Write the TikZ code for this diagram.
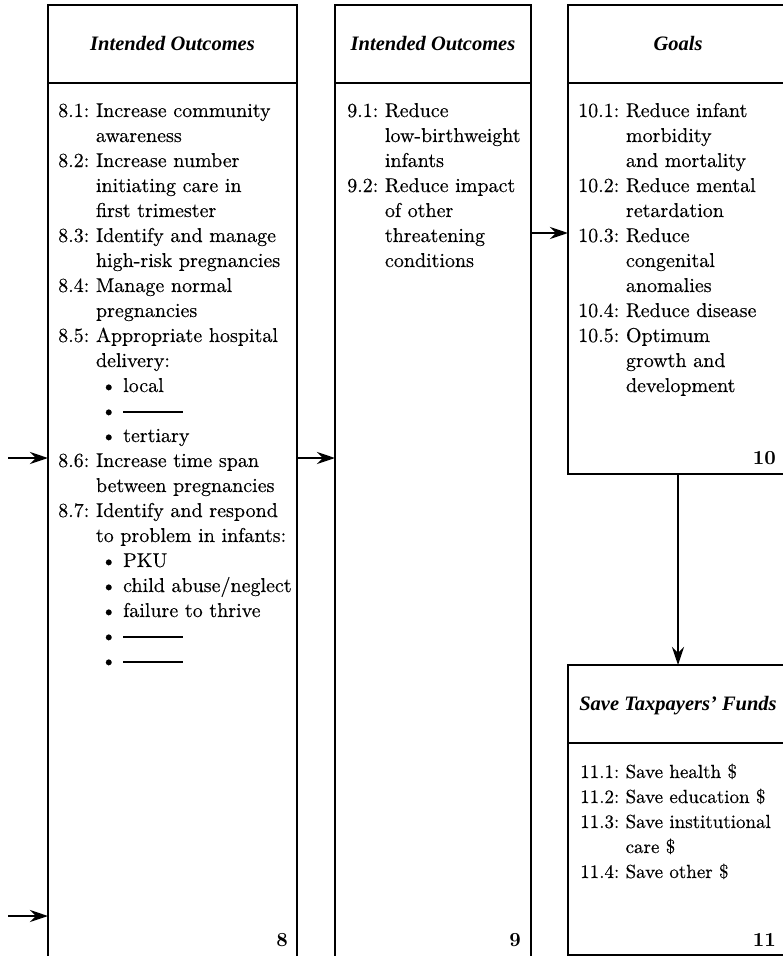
\documentclass[tikz,border=0pt]{standalone}
\usepackage{fontspec}
\setmainfont{lmroman10-regular.otf}[
  UprightFeatures={FakeBold=0.35},
  BoldFont=lmroman10-bold.otf,
  ItalicFont=lmroman10-italic.otf,
  BoldItalicFont=lmroman10-bolditalic.otf]
\newfontfamily\headfont{Liberation Serif}
\usetikzlibrary{arrows.meta}

\newcommand\bodytext{\fontsize{20}{25}\selectfont}
\newcommand\narrowtext{\fontsize{19}{25}\selectfont}
\newcommand\itembul{\hspace*{5pt}\textbullet\ }
\newcommand\blankline{\rule[4.5pt]{60pt}{1.1pt}}

\begin{document}
\begin{tikzpicture}[x=1pt, y=-1pt,
  panel/.style={draw, line width=1.2pt, rectangle, inner sep=0pt, outer sep=0pt, anchor=north west},
  divider/.style={line width=1.2pt},
  heading/.style={anchor=base, inner sep=0pt, font=\headfont\fontsize{20.5}{24}\selectfont\bfseries\itshape},
  listing/.style={anchor=base west, inner sep=0pt, font=\bodytext},
  boxno/.style={anchor=base east, inner sep=0pt, font=\bodytext\bfseries},
  flow/.style={line width=2.7pt, -{Stealth[length=18pt, width=12pt, inset=6pt]}}]

\useasboundingbox (0,0) rectangle (782,956);

% panels
\node[panel, minimum width=249pt, minimum height=955pt] (b8)  at (48,5)   {};
\node[panel, minimum width=196pt, minimum height=955pt] (b9)  at (335,5)  {};
\node[panel, minimum width=220pt, minimum height=469pt] (b10) at (568,5)  {};
\node[panel, minimum width=220pt, minimum height=290pt] (b11) at (568,665) {};

% heading dividers
\draw[divider] (b8.west |- 0,83)  -- (b8.east |- 0,83);
\draw[divider] (b9.west |- 0,83)  -- (b9.east |- 0,83);
\draw[divider] (b10.west |- 0,83) -- (b10.east |- 0,83);
\draw[divider] (b11.west |- 0,743) -- (b11.east |- 0,743);

% headings
\node[heading] (h8)  at (172.5,50) {Intended Outcomes};
\node[heading] (h9)  at (433,50)   {Intended Outcomes};
\node[heading] (h10) at (678,50)   {Goals};
\node[heading] (h11) at (678,710)  {Save Taxpayers’ Funds};

% contents
\node[listing] (t8) at (58,117) {\begin{tabular}[t]{@{}l@{\ }l@{}}
8.1: & Increase community\\
     & awareness\\
8.2: & Increase number\\
     & initiating care in\\
     & first trimester\\
8.3: & Identify and manage\\
     & high-risk pregnancies\\
8.4: & Manage normal\\
     & pregnancies\\
8.5: & Appropriate hospital\\
     & delivery:\\
     & \itembul local\\
     & \itembul \blankline\\
     & \itembul tertiary\\
8.6: & Increase time span\\
     & between pregnancies\\
8.7: & Identify and respond\\
     & to problem in infants:\\
     & \itembul PKU\\
     & \itembul child abuse/neglect\\
     & \itembul failure to thrive\\
     & \itembul \blankline\\
     & \itembul \blankline
\end{tabular}};

\node[listing] (t9) at (347,117) {\begin{tabular}[t]{@{}l@{\ }l@{}}
9.1: & Reduce\\
     & low-birthweight\\
     & infants\\
9.2: & Reduce impact\\
     & of other\\
     & threatening\\
     & conditions
\end{tabular}};

\node[listing] (t10) at (578,117) {\begin{tabular}[t]{@{}l@{\ }l@{}}
10.1: & Reduce infant\\
      & morbidity\\
      & and mortality\\
10.2: & Reduce mental\\
      & retardation\\
10.3: & Reduce\\
      & congenital\\
      & anomalies\\
10.4: & Reduce disease\\
10.5: & Optimum\\
      & growth and\\
      & development
\end{tabular}};

\node[listing, font=\narrowtext] (t11) at (580,778) {\begin{tabular}[t]{@{}l@{\ }l@{}}
11.1: & Save health \$\\
11.2: & Save education \$\\
11.3: & Save institutional\\
      & care \$\\
11.4: & Save other \$
\end{tabular}};

% panel numbers
\node[boxno] (n8)  at (288,946) {8};
\node[boxno] (n9)  at (521,946) {9};
\node[boxno] (n10) at (776,464) {10};
\node[boxno] (n11) at (776,946) {11};

% connectors
\coordinate (in1) at (8,458);
\coordinate (in2) at (8,916);
\coordinate (r8) at (0,458);
\coordinate (r9) at (0,233);
\draw[flow] (in1) -- (b8.west |- in1);
\draw[flow] (in2) -- (b8.west |- in2);
\draw[flow] (b8.east |- r8) -- (b9.west |- r8);
\draw[flow] (b9.east |- r9) -- (b10.west |- r9);
\draw[flow] (b10.south) -- (b11.north);
\end{tikzpicture}
\end{document}
